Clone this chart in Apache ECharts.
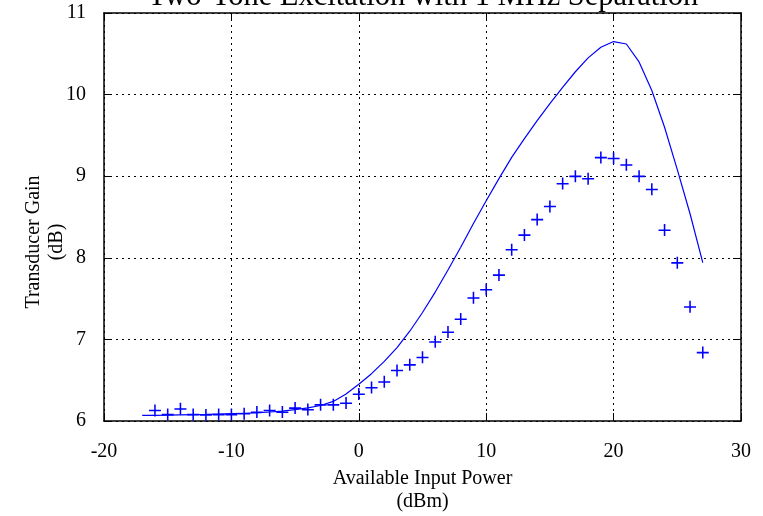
<!DOCTYPE html>
<html>
<head>
<meta charset="utf-8">
<script src="https://cdn.jsdelivr.net/npm/echarts@6/dist/echarts.min.js"></script>
<style>
  html, body { margin: 0; padding: 0; background: #fff; }
  #chart { width: 763px; height: 516px; }
</style>
</head>
<body>
<div id="chart"></div>
<script>
// Simulated gain curve (dBm -> dB), sampled every 1 dBm
const simPower = [-17,-16,-15,-14,-13,-12,-11,-10,-9,-8,-7,-6,-5,-4,-3,-2,-1,0,1,2,3,4,5,6,7,8,9,10,11,12,13,14,15,16,17,18,19,20,21,22,23,24,25,26,27];
const simGain = [6.068,6.07,6.072,6.075,6.078,6.08,6.085,6.09,6.095,6.10,6.11,6.12,6.14,6.16,6.19,6.24,6.33,6.45,6.58,6.73,6.90,7.10,7.33,7.58,7.85,8.13,8.42,8.70,8.97,9.23,9.46,9.68,9.89,10.09,10.28,10.45,10.58,10.65,10.62,10.40,10.05,9.60,9.08,8.54,7.94];

// Measured gain points
const measPower = [-16,-15,-14,-13,-12,-11,-10,-9,-8,-7,-6,-5,-4,-3,-2,-1,0,1,2,3,4,5,6,7,8,9,10,11,12,13,14,15,16,17,18,19,20,21,22,23,24,25,26,27];
const measGain = [6.13,6.08,6.15,6.08,6.075,6.08,6.08,6.09,6.11,6.13,6.11,6.16,6.14,6.20,6.20,6.22,6.33,6.41,6.48,6.62,6.69,6.78,6.97,7.09,7.25,7.51,7.61,7.79,8.10,8.28,8.47,8.63,8.91,9.00,8.97,9.23,9.22,9.14,9.00,8.84,8.34,7.94,7.40,6.84];

// Axis ranges and tick spacing
const xRange = [-20, 30], xStep = 10;
const yRange = [6, 11], yStep = 1;

const FONT = "'Liberation Serif', 'Times New Roman', serif";
const BLUE = '#0000ff';

const chart = echarts.init(document.getElementById('chart'), null, { renderer: 'canvas' });

const gridLine = { show: true, lineStyle: { color: '#000', type: [2, 4], width: 1 } };
const frame = { show: true, onZero: false, lineStyle: { color: '#000', width: 1.5 } };
const ticksIn = { show: true, inside: true, length: 8, lineStyle: { color: '#000', width: 1 } };

chart.setOption({
  animation: false,
  backgroundColor: '#fff',
  title: {
    text: 'Two-Tone Excitation with 1 MHz Separation',
    left: 418,
    top: -24,
    textAlign: 'center',
    textStyle: { fontFamily: FONT, fontSize: 30.5, fontWeight: 'normal', color: '#000' }
  },
  grid: { left: 104, right: 22, top: 13, bottom: 95, outerBoundsMode: 'none' },
  xAxis: [{
    type: 'value', min: xRange[0], max: xRange[1], interval: xStep,
    name: 'Available Input Power\n(dBm)',
    nameLocation: 'middle', nameGap: 46, nameMoveOverlap: false,
    nameTextStyle: { fontFamily: FONT, fontSize: 20, color: '#000', lineHeight: 23, verticalAlign: 'top' },
    axisLine: frame, axisTick: ticksIn, splitLine: gridLine,
    axisLabel: { fontFamily: FONT, fontSize: 20, color: '#000', margin: 21 }
  }, {
    type: 'value', position: 'top', min: xRange[0], max: xRange[1], interval: xStep,
    axisLine: frame, axisTick: ticksIn, splitLine: { show: false }, axisLabel: { show: false }
  }],
  yAxis: [{
    type: 'value', min: yRange[0], max: yRange[1], interval: yStep,
    name: 'Transducer Gain\n(dB)',
    nameLocation: 'middle', nameGap: 36, nameRotate: 90, nameMoveOverlap: false,
    nameTextStyle: { fontFamily: FONT, fontSize: 20, color: '#000', lineHeight: 23, padding: [0, 50, 0, 0] },
    axisLine: frame, axisTick: ticksIn, splitLine: gridLine,
    axisLabel: { fontFamily: FONT, fontSize: 20, color: '#000', margin: 18 }
  }, {
    type: 'value', position: 'right', min: yRange[0], max: yRange[1], interval: yStep,
    axisLine: frame, axisTick: ticksIn, splitLine: { show: false }, axisLabel: { show: false }
  }],
  series: [{
    type: 'line',
    data: simPower.map((p, i) => [p, simGain[i]]),
    showSymbol: false,
    lineStyle: { color: BLUE, width: 1.2 },
    z: 3
  }, {
    type: 'scatter',
    data: measPower.map((p, i) => [p, measGain[i]]),
    symbol: 'path://M0,9H20V11.6H0Z M8.7,0H11.3V20H8.7Z',
    symbolSize: 12,
    itemStyle: { color: BLUE, opacity: 1 },
    z: 4
  }]
});
</script>
</body>
</html>
